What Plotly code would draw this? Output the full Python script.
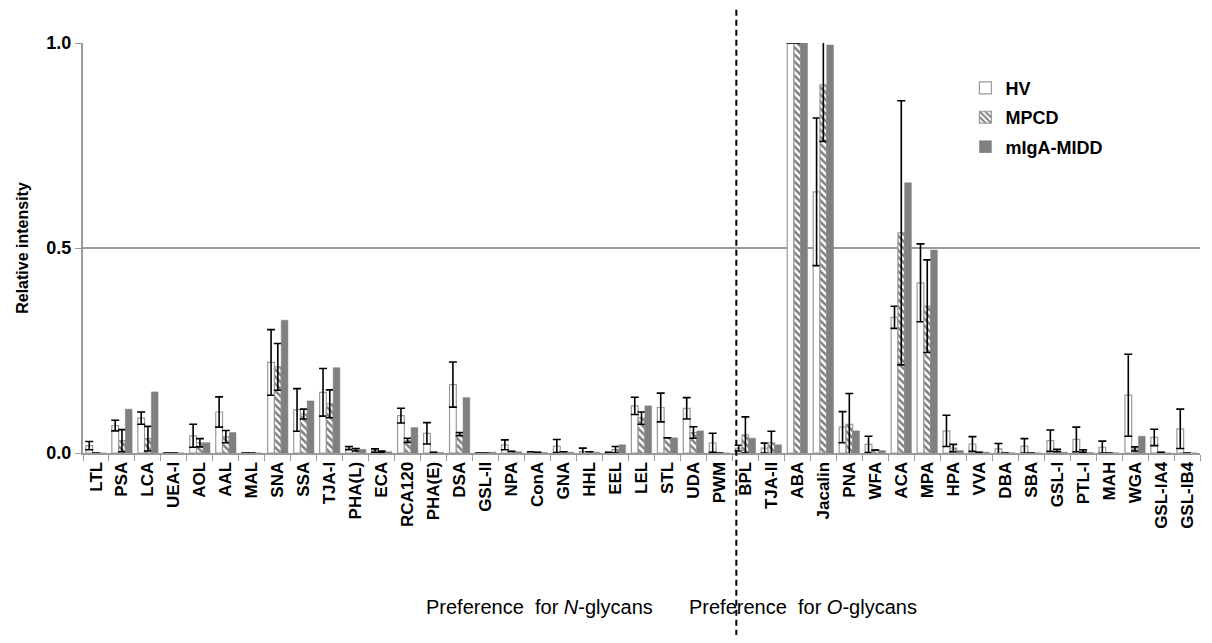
import plotly.graph_objects as go

categories = ["LTL", "PSA", "LCA", "UEA-I", "AOL", "AAL", "MAL", "SNA", "SSA", "TJA-I",
              "PHA(L)", "ECA", "RCA120", "PHA(E)", "DSA", "GSL-II", "NPA", "ConA", "GNA", "HHL",
              "EEL", "LEL", "STL", "UDA", "PWM",
              "BPL", "TJA-II", "ABA", "Jacalin", "PNA", "WFA", "ACA", "MPA", "HPA", "VVA",
              "DBA", "SBA", "GSL-I", "PTL-I", "MAH", "WGA", "GSL-IA4", "GSL-IB4"]

hv = [0.018, 0.067, 0.085, 0, 0.042, 0.10, 0, 0.221, 0.105, 0.148,
      0.012, 0.006, 0.091, 0.048, 0.167, 0, 0.02, 0.003, 0.017, 0.004,
      0.002, 0.115, 0.111, 0.109, 0.025,
      0.012, 0.012, 1.0, 0.637, 0.063, 0.021, 0.331, 0.415, 0.054, 0.022,
      0.01, 0.017, 0.03, 0.033, 0.014, 0.141, 0.038, 0.059]
hv_err = [0.01, 0.013, 0.015, 0, 0.028, 0.037, 0, 0.08, 0.052, 0.058,
          0.004, 0.004, 0.018, 0.026, 0.055, 0, 0.012, 0, 0.016, 0.008,
          0, 0.021, 0.035, 0.026, 0.023,
          0.007, 0.012, 0, 0.18, 0.038, 0.02, 0.027, 0.095, 0.038, 0.018,
          0.013, 0.018, 0.026, 0.03, 0.015, 0.1, 0.02, 0.048]
mpcd = [0, 0.03, 0.035, 0, 0.025, 0.04, 0, 0.21, 0.095, 0.12,
        0.008, 0.003, 0.031, 0.002, 0.046, 0, 0.004, 0.002, 0.003, 0.003,
        0.008, 0.085, 0.037, 0.05, 0,
        0.044, 0.025, 1.0, 0.898, 0.07, 0.007, 0.537, 0.358, 0.012, 0.002,
        0, 0, 0.006, 0.005, 0, 0.01, 0.002, 0]
mpcd_err = [0, 0.027, 0.03, 0, 0.01, 0.015, 0, 0.057, 0.012, 0.034,
            0.003, 0.002, 0.005, 0, 0.004, 0, 0, 0, 0, 0,
            0.008, 0.015, 0, 0.014, 0,
            0.044, 0.028, 0, 0.138, 0.075, 0, 0.322, 0.113, 0.009, 0,
            0, 0, 0.003, 0.003, 0, 0.005, 0, 0]
miga = [0, 0.107, 0.149, 0, 0.025, 0.05, 0, 0.324, 0.127, 0.208,
        0.009, 0.003, 0.062, 0.001, 0.135, 0.002, 0.003, 0.001, 0.002, 0.002,
        0.02, 0.115, 0.037, 0.054, 0,
        0.036, 0.02, 1.0, 0.995, 0.054, 0.006, 0.659, 0.495, 0.006, 0.002,
        0, 0, 0.002, 0.001, 0, 0.041, 0, 0]

series_names = ["HV", "MPCD", "mIgA-MIDD"]
y_ticks = [0, 0.5, 1.0]
y_ticklabels = ["0.0", "0.5", "1.0"]

FONT = "Liberation Sans, Arial, sans-serif"
GREY_LINE = "#9a9a9a"


def nz(arr):
    return [v if v else None for v in arr]


def err(arr):
    return dict(type="data", array=nz(arr), visible=True, color="black",
                thickness=1.6, width=4)


fig = go.Figure()
fig.add_trace(go.Bar(
    x=categories, y=hv, name=series_names[0], legendgroup="a",
    marker=dict(color="white", line=dict(color=GREY_LINE, width=1.2)),
    error_y=err(hv_err)))
fig.add_trace(go.Bar(
    x=categories, y=mpcd, name=series_names[1], legendgroup="b",
    marker=dict(color="white", line=dict(color=GREY_LINE, width=1.2),
                pattern=dict(shape="\\", fgcolor="black", bgcolor="white",
                             size=5, solidity=0.5)),
    error_y=err(mpcd_err)))
fig.add_trace(go.Bar(
    x=categories, y=miga, name=series_names[2], legendgroup="c",
    marker=dict(color="#808080", line=dict(color="#808080", width=0.5))))

fig.update_layout(
    width=1196, height=627,
    margin=dict(l=75, r=4, t=35, b=182),
    paper_bgcolor="white", plot_bgcolor="white",
    barmode="group", bargap=0.22, bargroupgap=0,
    font=dict(family=FONT, color="black"),
    showlegend=True,
    legend=dict(x=0.79, y=0.935, xanchor="left", yanchor="top",
                font=dict(family=FONT, size=18, weight="bold"),
                tracegroupgap=3, traceorder="grouped",
                bgcolor="rgba(0,0,0,0)"),
    xaxis=dict(
        type="category", tickangle=-90,
        tickfont=dict(family=FONT, size=17, weight="bold", color="black"),
        showline=True, linecolor=GREY_LINE, linewidth=2,
        ticks="outside", tickson="boundaries", ticklen=6, tickcolor=GREY_LINE,
        showgrid=False),
    yaxis=dict(
        range=[0, 1.0], tickvals=y_ticks, ticktext=y_ticklabels,
        tickfont=dict(family=FONT, size=18, weight="bold", color="black"),
        showline=True, linecolor=GREY_LINE, linewidth=2,
        ticks="outside", ticklen=6, tickcolor=GREY_LINE,
        showgrid=True, gridcolor=GREY_LINE, gridwidth=1.5, zeroline=False,
        title=dict(text="Relative intensity", standoff=14,
                   font=dict(family=FONT, size=16, weight="bold"))),
)

fig.add_shape(type="line", xref="x", yref="paper", x0=24.65, x1=24.65,
              y0=-0.47, y1=1.11, line=dict(color="black", width=2, dash="6px,4px"),
              layer="above")

fig.add_annotation(xref="paper", yref="paper", x=0.409, y=-0.407,
                   text="Preference\u00a0 for <i>N</i>-glycans", showarrow=False,
                   font=dict(family=FONT, size=20, color="black"))
fig.add_annotation(xref="paper", yref="paper", x=0.748, y=-0.407,
                   text="Preference\u00a0 for <i>O</i>-glycans", showarrow=False,
                   font=dict(family=FONT, size=20, color="black"))

fig.write_html("out.html")
